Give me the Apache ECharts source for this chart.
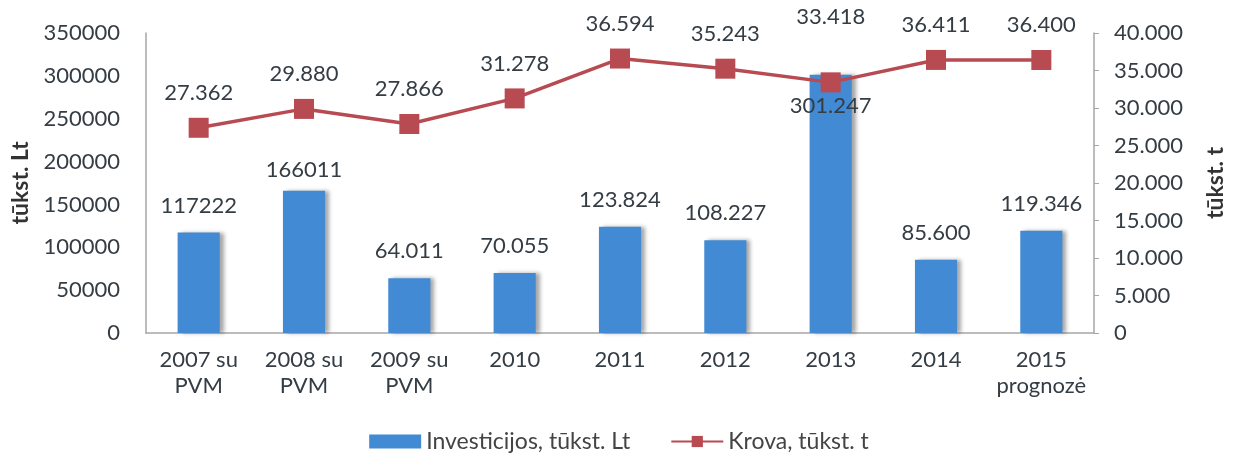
<!DOCTYPE html>
<html><head><meta charset="utf-8">
<script src="https://cdn.jsdelivr.net/npm/echarts@6/dist/echarts.min.js"></script>
<style>html,body{margin:0;padding:0;background:#fff}#c{width:1238px;height:464px}</style>
</head><body><div id="c"></div>
<script>
const categories = ['2007 su\nPVM','2008 su\nPVM','2009 su\nPVM','2010','2011','2012','2013','2014','2015\nprognozė'];
const investicijos = [117222,166011,64011,70055,123824,108227,301247,85600,119346];
const investicijosLabels = ['117222','166011','64.011','70.055','123.824','108.227','301.247','85.600','119.346'];
const krova = [27362,29880,27866,31278,36594,35243,33418,36411,36400];
const krovaLabels = ['27.362','29.880','27.866','31.278','36.594','35.243','33.418','36.411','36.400'];
const leftTicks = [0,50000,100000,150000,200000,250000,300000,350000];
const rightTicks = ['0','5.000','10.000','15.000','20.000','25.000','30.000','35.000','40.000'];

const FONT = 'Lato';
const TXT = '#343c44';
const chart = echarts.init(document.getElementById('c'));
const barData = investicijos.map((v,i)=>{
  const d = {value:v};
  if (i===6) d.label = {position:'insideTop', distance:20};
  if (i===1) d.label = {distance:10};
  return d;
});
const lineData = krova.map((v,i)=>{
  const d = {value:v};
  if (i===6) d.label = {distance:44};
  return d;
});
chart.setOption({
  animation:false,
  textStyle:{fontFamily:FONT},
  grid:{left:146,right:144,top:33,bottom:131},
  legend:{
    bottom:6,left:'center',itemGap:40,itemWidth:52,itemHeight:14,
    textStyle:{fontFamily:FONT,fontSize:23,color:'#444'},
    data:[{name:'Investicijos, tūkst. Lt',icon:'rect'},{name:'Krova, tūkst. t'}]
  },
  xAxis:{
    type:'category',data:categories,
    axisLine:{lineStyle:{color:'#a6a6a6',width:1.5}},
    axisTick:{show:false},
    axisLabel:{fontFamily:FONT,fontSize:22,color:TXT,lineHeight:26,margin:14,interval:0}
  },
  yAxis:[{
    type:'value',min:0,max:350000,interval:50000,
    name:'tūkst. Lt',nameLocation:'middle',nameGap:110,nameRotate:90,
    nameTextStyle:{fontFamily:FONT,fontSize:23,fontWeight:'bold',color:'#333'},
    axisLine:{show:true,lineStyle:{color:'#a6a6a6',width:1.5}},
    axisTick:{show:false},
    splitLine:{show:false},
    axisLabel:{fontFamily:FONT,fontSize:22,color:TXT,margin:26,
      formatter:v=>String(leftTicks[leftTicks.indexOf(v)])}
  },{
    type:'value',min:0,max:40000,interval:5000,position:'right',
    name:'tūkst. t',nameLocation:'middle',nameGap:110,nameRotate:90,
    nameTextStyle:{fontFamily:FONT,fontSize:23,fontWeight:'bold',color:'#333'},
    axisLine:{show:true,lineStyle:{color:'#a6a6a6',width:1.5}},
    axisTick:{show:true,length:5,lineStyle:{color:'#a6a6a6'}},
    splitLine:{show:false},
    axisLabel:{fontFamily:FONT,fontSize:22,color:TXT,margin:20,
      formatter:v=>rightTicks[Math.round(v/5000)]}
  }],
  series:[{
    name:'Investicijos, tūkst. Lt',type:'bar',yAxisIndex:0,data:barData,
    barWidth:'40%',
    itemStyle:{color:'#428bd4',shadowColor:'rgba(0,0,0,0.35)',shadowBlur:4,shadowOffsetX:4,shadowOffsetY:0},
    label:{show:true,position:'top',distance:16,fontFamily:FONT,fontSize:22,color:TXT,
      formatter:p=>investicijosLabels[p.dataIndex]},
    z:2
  },{
    name:'Krova, tūkst. t',type:'line',yAxisIndex:1,data:lineData,
    symbol:'rect',symbolSize:20,
    lineStyle:{color:'#b84a52',width:3.5},
    itemStyle:{color:'#b84a52'},
    label:{show:true,position:'top',distance:14,fontFamily:FONT,fontSize:22,color:TXT,
      formatter:p=>krovaLabels[p.dataIndex]},
    z:3
  }]
});
</script></body></html>
